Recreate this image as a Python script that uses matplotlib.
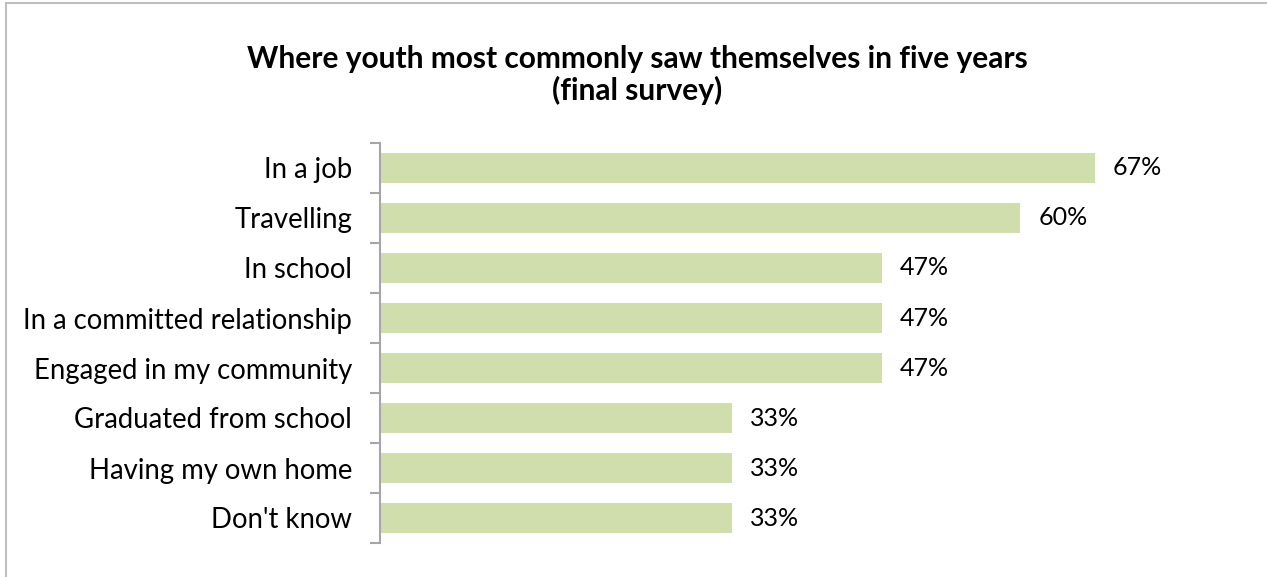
import matplotlib
matplotlib.use("Agg")
import matplotlib.pyplot as plt
from matplotlib.lines import Line2D
from matplotlib.ticker import FixedLocator

categories = ["In a job", "Travelling", "In school", "In a committed relationship",
              "Engaged in my community", "Graduated from school", "Having my own home",
              "Don't know"]
values = [67, 60, 47, 47, 47, 33, 33, 33]
title = "Where youth most commonly saw themselves in five years\n(final survey)"

plt.rcParams['font.family'] = ['Lato', 'DejaVu Sans']

W, H = 1267, 577
fig = plt.figure(figsize=(W / 100, H / 100), dpi=100)
ax = fig.add_axes([380 / W, 34 / H, (1127 - 380) / W, (543 - 143) / H])

n = len(categories)
ypos = list(range(n))
ax.barh(ypos, values, height=0.6, color="#d0deae", edgecolor="none")
ax.set_ylim(n - 0.5, -0.5)
ax.set_xlim(0, 70)

ax.set_yticks(ypos)
ax.set_yticklabels(categories, fontsize=19.8, color="#000000")
ax.tick_params(axis="y", which="major", length=0, pad=20)
ax.yaxis.set_minor_locator(FixedLocator([i - 0.5 for i in range(n + 1)]))
ax.tick_params(axis="y", which="minor", length=7, width=1.5, color="#a6a6a6")
ax.set_xticks([])
for s in ["top", "right", "bottom"]:
    ax.spines[s].set_visible(False)
ax.spines["left"].set_color("#a6a6a6")
ax.spines["left"].set_linewidth(1.5)

for y, v in zip(ypos, values):
    ax.annotate(f"{v}%", xy=(v, y), xytext=(13, 0), textcoords="offset points",
                va="center", ha="left", fontsize=18, color="#000000")

fig.text(0.503, 1 - 75 / H, title, ha="center", va="center", fontsize=21.5,
         fontweight="bold", linespacing=1.15)

# outer border (top and left visible)
fig.add_artist(Line2D([5.5 / W, 5.5 / W], [0, 1 - 2.5 / H], transform=fig.transFigure,
                      color="#bfbfbf", lw=1.5))
fig.add_artist(Line2D([5.5 / W, 1], [1 - 2.5 / H, 1 - 2.5 / H], transform=fig.transFigure,
                      color="#bfbfbf", lw=1.5))

fig.savefig("out.png", dpi=100, facecolor="white")
